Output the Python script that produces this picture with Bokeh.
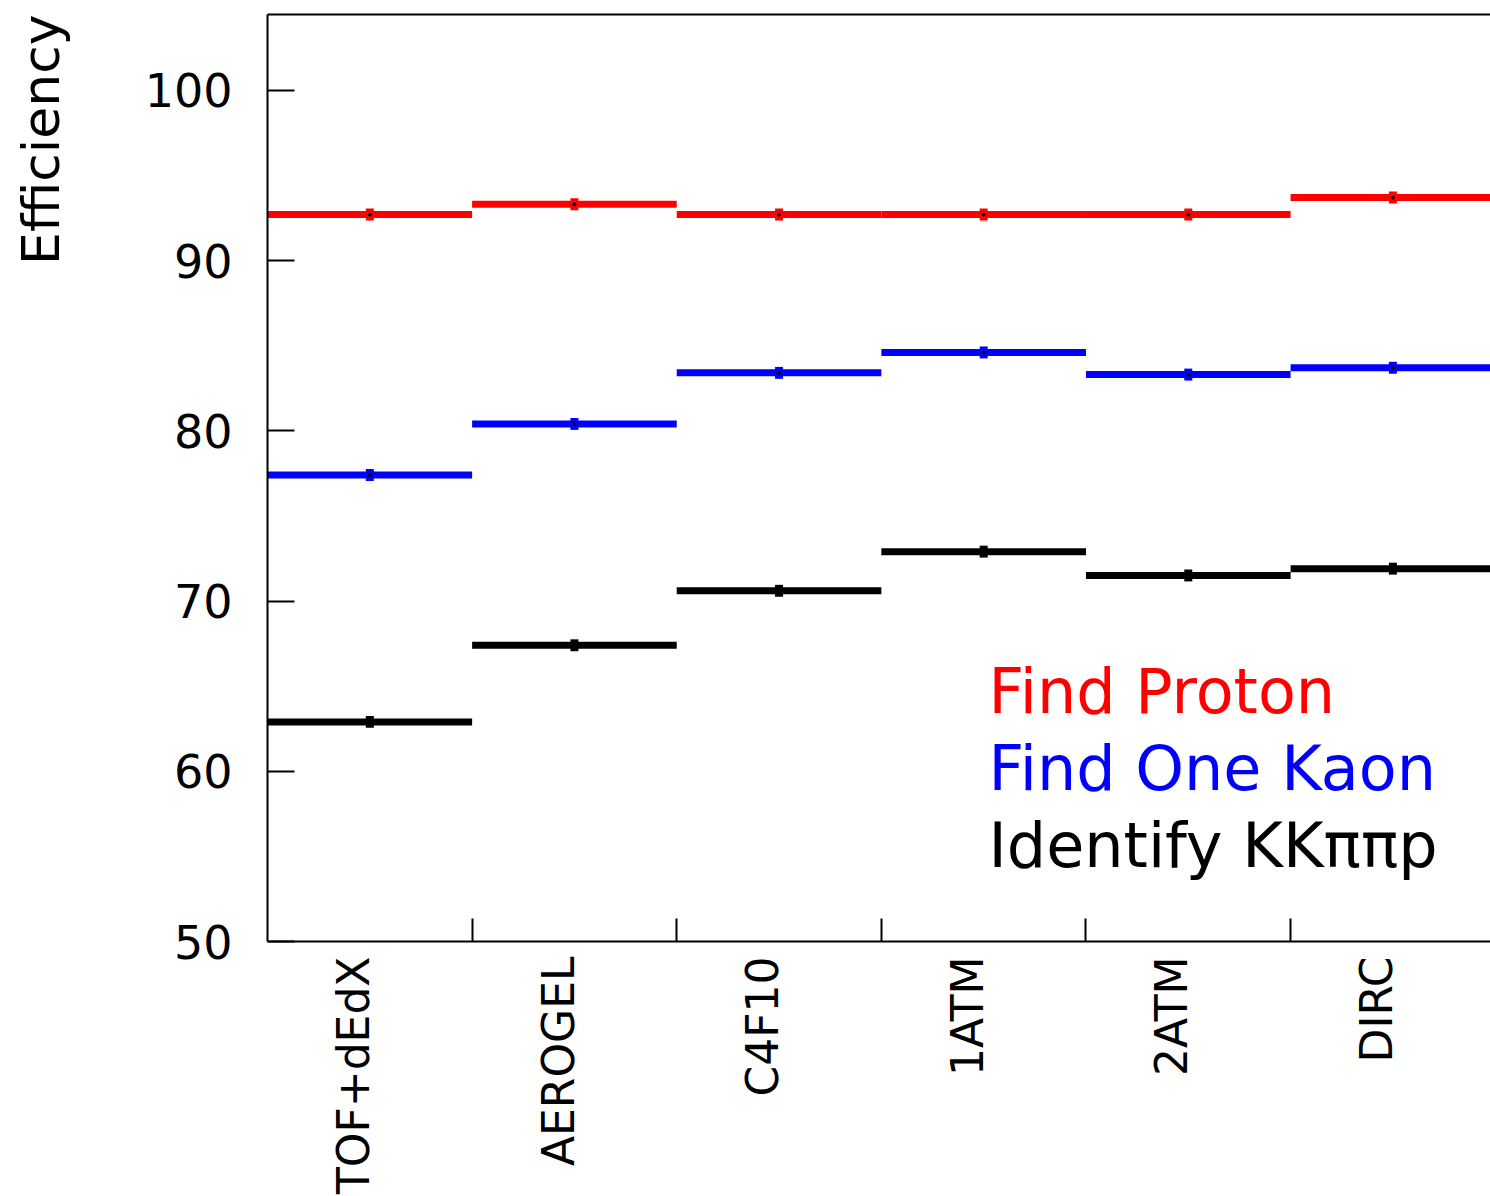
import math
from bokeh.plotting import figure
from bokeh.models import Range1d, FixedTicker, LinearAxis, Label, ColumnDataSource, Title
from bokeh.embed import file_html
from bokeh.resources import INLINE

categories = ["TOF+dEdX", "AEROGEL", "C4F10", "1ATM", "2ATM", "DIRC"]
proton = [92.7, 93.3, 92.7, 92.7, 92.7, 93.7]
kaon = [77.4, 80.4, 83.4, 84.6, 83.3, 83.7]
kkpipip = [62.9, 67.4, 70.6, 72.9, 71.5, 71.9]
errors = [0.35, 0.35, 0.35, 0.35, 0.35, 0.35]
series_names = ["Find Proton", "Find One Kaon", "Identify KK\u03c0\u03c0p"]
series_colors = ["#ff0000", "#0000ff", "#000000"]
y_ticks = [50, 60, 70, 80, 90, 100]

FONT = "DejaVu Sans"

p = figure(width=1490, height=1196, output_backend="svg", toolbar_location=None,
           x_range=Range1d(0, 5.977), y_range=Range1d(50, 104.45),
           min_border_left=267, min_border_right=0, min_border_top=14,
           min_border_bottom=253, background_fill_color="white",
           border_fill_color="white", outline_line_color=None)
p.xgrid.visible = False
p.ygrid.visible = False

n = len(categories)
edges = list(range(n + 1))
centers = [i + 0.5 for i in range(n)]
label_pos = [i + 0.42 for i in range(n)]

for vals, col in zip([proton, kaon, kkpipip], series_colors):
    src = ColumnDataSource(dict(x0=edges[:-1], x1=edges[1:], y=vals, xc=centers,
                                lo=[v - e for v, e in zip(vals, errors)],
                                hi=[v + e for v, e in zip(vals, errors)]))
    p.segment(x0="x0", x1="x1", y0="y", y1="y", source=src, line_color=col,
              line_width=7, line_cap="butt")
    p.segment(x0="xc", x1="xc", y0="lo", y1="hi", source=src, line_color=col,
              line_width=8, line_cap="butt")
    p.scatter(x="xc", y="y", source=src, size=3, color="black")

# y axis
ya = p.yaxis[0]
ya.ticker = FixedTicker(ticks=y_ticks, minor_ticks=[])
ya.major_tick_in = 27
ya.major_tick_out = 0
ya.minor_tick_in = 0
ya.minor_tick_out = 0
ya.major_label_standoff = 35
ya.major_label_text_font = FONT
ya.major_label_text_font_size = "46px"
ya.major_label_text_color = "black"
ya.axis_line_width = 2
ya.major_tick_line_width = 2
ya.axis_line_color = "black"
# blank spacer label that pushes the title outwards
ya.axis_label = "\u00a0"
ya.axis_label_standoff = 55
ya.axis_label_text_font_size = "1px"

# x axis
xa = p.xaxis[0]
xa.ticker = FixedTicker(ticks=label_pos, minor_ticks=edges[1:-1])
xa.major_label_overrides = {c: lab for c, lab in zip(label_pos, categories)}
xa.major_label_orientation = math.pi / 2
xa.major_tick_in = 0
xa.major_tick_out = 0
xa.minor_tick_in = 23
xa.minor_tick_out = 0
xa.minor_tick_line_width = 2
xa.minor_tick_line_color = "black"
xa.axis_line_width = 2
xa.axis_line_color = "black"
xa.major_label_standoff = 15
xa.major_label_text_font = FONT
xa.major_label_text_font_size = "44px"
xa.major_label_text_color = "black"

# top border
top = LinearAxis(ticker=FixedTicker(ticks=[]), axis_line_width=2,
                 major_tick_in=0, major_tick_out=0, minor_tick_in=0, minor_tick_out=0)
p.add_layout(top, "above")

# y axis title
p.add_layout(Title(text="Efficiency", align="right", vertical_align="top",
                   text_font=FONT, text_font_size="52px", text_font_style="normal",
                   text_color="black", standoff=20), "left")

# legend texts
for i, (name, col) in enumerate(zip(series_names, series_colors)):
    p.add_layout(Label(x=721, y=250 - 77 * i, x_units="screen", y_units="screen",
                       text=name, text_font=FONT, text_font_size="62px",
                       text_color=col, text_baseline="alphabetic"))

open("out.html", "w").write(file_html(p, INLINE))
